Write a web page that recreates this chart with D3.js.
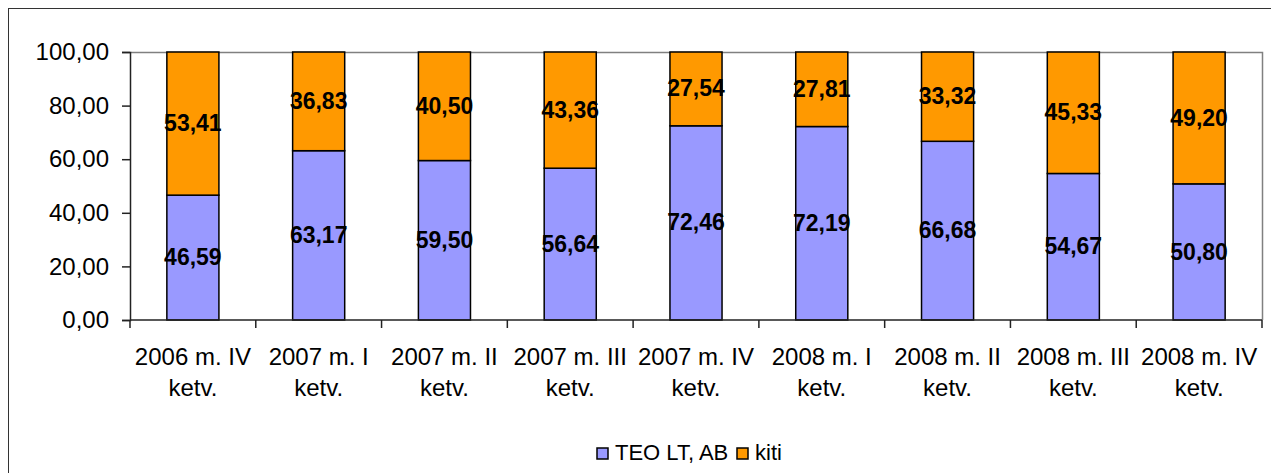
<!DOCTYPE html>
<meta charset="utf-8">
<script src="https://d3js.org/d3.v7.min.js"></script>
<style>
  body { margin: 0; background: #fff; }
  text { font-family: "Liberation Sans", Arial, sans-serif; }
</style>
<body>
<div id="canvas"></div>
<script>

    // dados
    var categorias = ["2006 m. IV ketv.", "2007 m. I ketv.", "2007 m. II ketv.", "2007 m. III ketv.",
                      "2007 m. IV ketv.", "2008 m. I ketv.", "2008 m. II ketv.", "2008 m. III ketv.", "2008 m. IV ketv."];
    var teo  = [46.59, 63.17, 59.50, 56.64, 72.46, 72.19, 66.68, 54.67, 50.80];
    var kiti = [53.41, 36.83, 40.50, 43.36, 27.54, 27.81, 33.32, 45.33, 49.20];
    var series = ["TEO LT, AB", "kiti"];
    var yTicks = [0, 20, 40, 60, 80, 100];

    var colors = ["#9999ff", "#ff9900"];

    var width = 1271;
    var height = 473;

    var svg = d3.select('#canvas')
        .append("svg")
        .attr("width", width)
        .attr("height", height);

    // moldura externa
    svg.append("rect")
        .attr("x", 8.5)
        .attr("y", 8.5)
        .attr("width", width + 20)
        .attr("height", height + 20)
        .attr("fill", "none")
        .attr("stroke", "#333")
        .attr("stroke-width", 1);

    var margin = {top: 52, right: 9, bottom: 153, left: 130};
    var w = width - margin.left - margin.right;
    var h = height - margin.top - margin.bottom;

    var g = svg.append("g")
        .attr("transform", "translate(" + margin.left + "," + margin.top + ")");

    var locale = d3.formatLocale({decimal: ",", thousands: ".", grouping: [3], currency: ["", ""]});
    var fmt = locale.format(".2f");

    var x = d3.scaleBand()
        .domain(categorias)
        .range([0, w])
        .paddingInner(0.586)
        .paddingOuter(0.293);

    var xb = d3.scaleBand().domain(categorias).range([0, w]);

    var y = d3.scaleLinear()
        .domain([0, 100])
        .range([h, 0]);

    // borda da area do grafico
    g.append("path")
        .attr("d", "M0.5," + (y(100) + 0.5) + "H" + (w + 0.5) + "V" + h)
        .attr("fill", "none")
        .attr("stroke", "#808080")
        .attr("stroke-width", 1.5);

    // barras empilhadas
    var dados = categorias.map(function(c, i) { return {cat: c, teo: teo[i], kiti: kiti[i]}; });
    var stack = d3.stack().keys(["teo", "kiti"])(dados);

    stack.forEach(function(layer, s) {
        g.selectAll(".bar" + s)
            .data(layer)
            .enter()
            .append("rect")
            .attr("x", function(d) { return x(d.data.cat); })
            .attr("y", function(d) { return y(d[1]); })
            .attr("width", x.bandwidth())
            .attr("height", function(d) { return y(d[0]) - y(d[1]); })
            .attr("fill", colors[s])
            .attr("stroke", "#000")
            .attr("stroke-width", 1.5);
    });

    // eixo Y
    var yAxis = d3.axisLeft(y)
        .tickValues(yTicks)
        .tickFormat(fmt)
        .tickSize(8)
        .tickPadding(13);

    var ya = g.append("g").call(yAxis);
    ya.selectAll("text").style("font-size", "24px").attr("fill", "#000");
    ya.select(".domain").attr("stroke", "#222").attr("stroke-width", 1.5);
    ya.selectAll(".tick line").attr("stroke", "#222").attr("stroke-width", 1.5);

    // eixo X (marcas nas divisas das categorias)
    var xa = g.append("g").attr("transform", "translate(0," + h + ")");
    xa.append("line")
        .attr("x1", 0).attr("x2", w)
        .attr("stroke", "#222").attr("stroke-width", 1.5);
    xa.selectAll(".tk")
        .data(categorias.concat(["fim"]))
        .enter()
        .append("line")
        .attr("x1", function(d, i) { return i * xb.bandwidth(); })
        .attr("x2", function(d, i) { return i * xb.bandwidth(); })
        .attr("y1", 0).attr("y2", 8)
        .attr("stroke", "#222").attr("stroke-width", 1.5);

    xa.selectAll(".lbl")
        .data(categorias)
        .enter()
        .append("text")
        .attr("text-anchor", "middle")
        .attr("x", function(d) { return xb(d) + xb.bandwidth() / 2; })
        .attr("y", 45)
        .style("font-size", "24px")
        .each(function(d) {
            var p = d.split(" ketv.");
            d3.select(this).append("tspan").attr("x", xb(d) + xb.bandwidth() / 2).text(p[0]);
            d3.select(this).append("tspan").attr("x", xb(d) + xb.bandwidth() / 2).attr("dy", 31).text("ketv.");
        });

    // rotulos dos valores
    stack.forEach(function(layer, s) {
        g.selectAll(".val" + s)
            .data(layer)
            .enter()
            .append("text")
            .attr("text-anchor", "middle")
            .attr("x", function(d) { return x(d.data.cat) + x.bandwidth() / 2; })
            .attr("y", function(d) { return (y(d[0]) + y(d[1])) / 2; })
            .attr("dy", "0.33em")
            .style("font-size", "23px")
            .style("font-weight", "bold")
            .text(function(d) { return fmt(d[1] - d[0]); });
    });

    // legenda
    var legX = [597, 737];
    var leg = svg.selectAll(".leg")
        .data(series)
        .enter()
        .append("g")
        .attr("transform", function(d, i) { return "translate(" + legX[i] + ",448)"; });
    leg.append("rect")
        .attr("width", 11).attr("height", 11)
        .attr("fill", function(d, i) { return colors[i]; })
        .attr("stroke", "#000").attr("stroke-width", 1.5);
    leg.append("text")
        .attr("x", 18)
        .attr("y", 12)
        .style("font-size", "22px")
        .text(function(d) { return d; });

</script>
</body>
